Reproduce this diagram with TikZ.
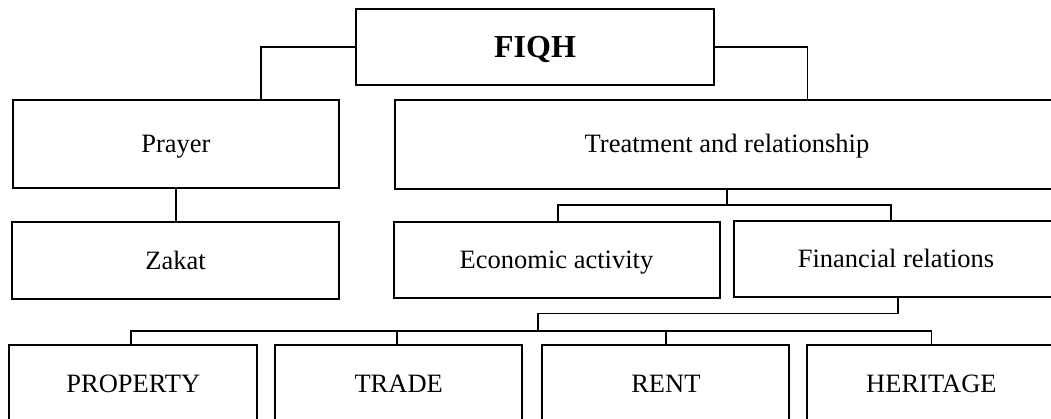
\documentclass[tikz,border=0pt]{standalone}
\usepackage{fontspec}
\setmainfont{Liberation Serif}
\begin{document}
\begin{tikzpicture}[x=1pt,y=-1pt,
  box/.style={draw=black,line width=2pt,inner sep=0pt,fill=white,
    text height=17.5pt,text depth=0pt,
    font=\fontsize{26.5}{30}\selectfont},
  conn/.style={draw=black,line width=1.8pt}]
\useasboundingbox (0,0) rectangle (1051,418);
\clip (0,0) rectangle (1051,418);
% nodes
\node[box,minimum width=358.8pt,minimum height=75.5pt,text height=21.5pt,font=\fontsize{32}{36}\selectfont\bfseries] (fiqh) at (535,46.75) {FIQH};
\node[box,minimum width=326.2pt,minimum height=88.6pt] (prayer) at (175.9,144) {Prayer};
\node[box,minimum width=665pt,minimum height=89pt] (treat) at (727,144) {Treatment and relationship};
\node[box,minimum width=326.5pt,minimum height=76.5pt] (zakat) at (175.5,260.25) {Zakat};
\node[box,minimum width=326pt,minimum height=76pt] (econ) at (556.5,259.5) {Economic activity};
\node[box,minimum width=324pt,minimum height=76pt] (fin) at (896,258.5) {Financial relations};
\node[box,minimum width=248pt,minimum height=78pt] (prop) at (133.3,384) {PROPERTY};
\node[box,minimum width=247.3pt,minimum height=78pt] (trade) at (398.7,384) {TRADE};
\node[box,minimum width=247pt,minimum height=78pt] (rent) at (665.9,384) {RENT};
\node[box,minimum width=248pt,minimum height=78pt] (herit) at (931.4,384) {HERITAGE};
% connectors
\draw[conn] (fiqh.west) -| ([xshift=85.4pt]prayer.north);
\draw[conn] (fiqh.east) -| ([xshift=80.4pt]treat.north);
\draw[conn] (prayer.south) -- (prayer.south |- zakat.north);
\draw[conn] (treat.south) -- ++(0,15.7) coordinate (tj);
\draw[conn] ([xshift=1.5pt]econ.north) |- (tj) -| ([xshift=-5pt]fin.north);
\draw[conn] ([xshift=2pt]fin.south) -- ++(0,16) coordinate (fj);
\coordinate (bj) at (537.6,331);
\draw[conn] (fj) -| (bj);
\draw[conn] ([xshift=-2.3pt]prop.north) |- (bj) -| (herit.north);
\draw[conn] ([xshift=-1.5pt]trade.north) -- ([xshift=-1.5pt]trade.north |- bj);
\draw[conn] (rent.north) -- (rent.north |- bj);
\end{tikzpicture}
\end{document}
